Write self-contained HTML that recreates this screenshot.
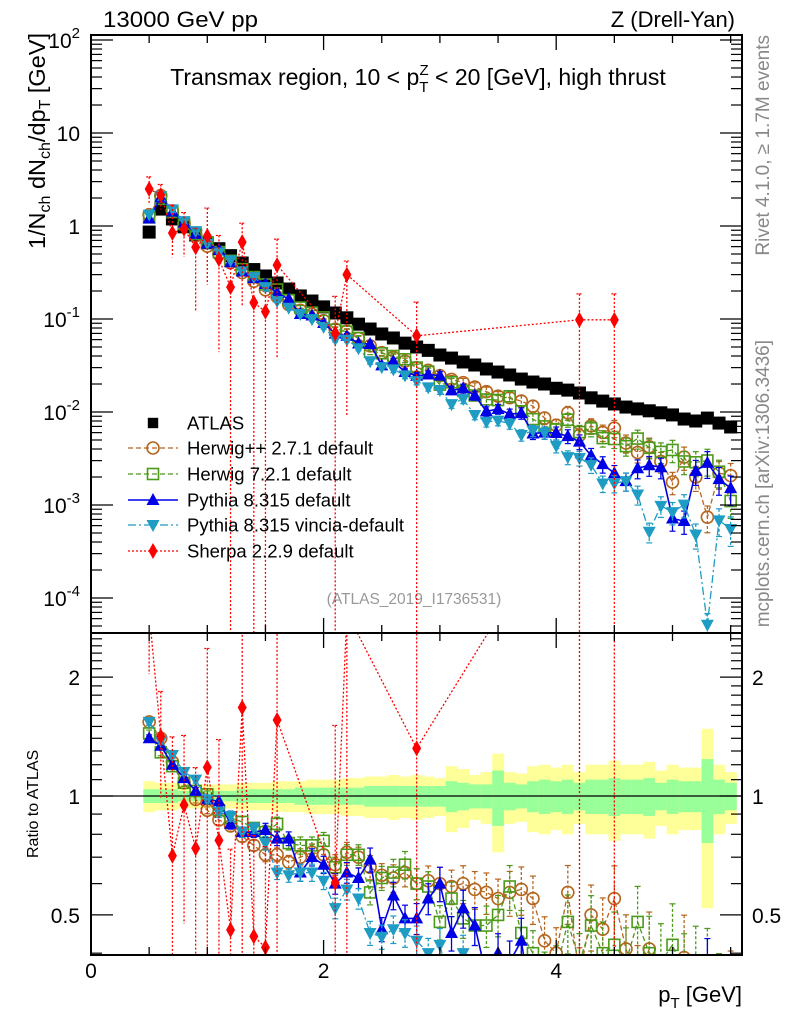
<!DOCTYPE html>
<html><head><meta charset="utf-8">
<style>
html,body{margin:0;padding:0;background:#fff;overflow:hidden;width:786px;height:1024px;}
svg{display:block;font-family:"Liberation Sans",Arial,sans-serif;}
</style></head>
<body>
<svg id="chart" width="786" height="1024" viewBox="0 0 786 1024" xmlns="http://www.w3.org/2000/svg">
<defs>
<clipPath id="clipMain"><rect x="91" y="35" width="651" height="598"/></clipPath>
<clipPath id="clipRatio"><rect x="91" y="633" width="651" height="322"/></clipPath>
</defs>
<rect x="0" y="0" width="786" height="1024" fill="#fff"/>
<text x="103" y="27" font-size="22" textLength="155" lengthAdjust="spacingAndGlyphs">13000 GeV pp</text>
<text x="735" y="27" font-size="22" text-anchor="end">Z (Drell-Yan)</text>
<text x="418" y="85" font-size="23" text-anchor="middle">Transmax region, 10 &lt; p<tspan font-size="15" dy="7">T</tspan><tspan font-size="15" dx="-9" dy="-17">Z</tspan><tspan dy="10"> &lt; 20 [GeV], high thrust</tspan></text>
<text transform="translate(45,33) rotate(-90)" font-size="23.5" text-anchor="end">1/N<tspan font-size="16" dy="5">ch</tspan><tspan dy="-5"> dN</tspan><tspan font-size="16" dy="5">ch</tspan><tspan dy="-5">/dp</tspan><tspan font-size="16" dy="5">T</tspan><tspan dy="-5"> [GeV]</tspan></text>
<text transform="translate(769,35) rotate(-90)" font-size="19" fill="#888" text-anchor="end">Rivet 4.1.0, ≥ 1.7M events</text>
<text transform="translate(769,340) rotate(-90)" font-size="19" fill="#888" text-anchor="end">mcplots.cern.ch [arXiv:1306.3436]</text>
<text x="414" y="604" font-size="15.5" fill="#999" text-anchor="middle">(ATLAS_2019_I1736531)</text>
<text transform="translate(38,858) rotate(-90)" font-size="16" text-anchor="start">Ratio to ATLAS</text>
<text x="742" y="1002" font-size="22" text-anchor="end">p<tspan font-size="15" dy="6">T</tspan><tspan dy="-6"> [GeV]</tspan></text>
<g id="bands" clip-path="url(#clipRatio)"></g>
<g id="marksMain" clip-path="url(#clipMain)"></g>
<g id="marksRatio" clip-path="url(#clipRatio)"></g>
<g id="axes"></g>
<g id="legend"></g>
</svg>
<script>
const xs = [0.5,0.6,0.7,0.8,0.9,1.0,1.1,1.2,1.3,1.4,1.5,1.6,1.7,1.8,1.9,2.0,2.1,2.2,2.3,2.4,2.5,2.6,2.7,2.8,2.9,3.0,3.1,3.2,3.3,3.4,3.5,3.6,3.7,3.8,3.9,4.0,4.1,4.2,4.3,4.4,4.5,4.6,4.7,4.8,4.9,5.0,5.1,5.2,5.3,5.4,5.5];
const atlas = [0.86,1.52,1.19,0.98,0.80,0.66,0.57,0.48,0.40,0.34,0.29,0.244,0.21,0.177,0.156,0.135,0.116,0.103,0.088,0.078,0.069,0.0625,0.055,0.050,0.046,0.041,0.038,0.0345,0.032,0.029,0.0269,0.025,0.0226,0.021,0.020,0.018,0.0172,0.016,0.0142,0.0131,0.0122,0.0113,0.0108,0.0103,0.0098,0.0093,0.0084,0.0080,0.0086,0.0076,0.0069];
const bandOuter = [0.09,0.08,0.08,0.07,0.07,0.07,0.07,0.07,0.08,0.08,0.08,0.09,0.09,0.09,0.10,0.10,0.10,0.11,0.11,0.12,0.12,0.13,0.12,0.13,0.12,0.11,0.19,0.17,0.13,0.15,0.28,0.15,0.14,0.19,0.20,0.18,0.20,0.15,0.20,0.20,0.23,0.20,0.20,0.22,0.16,0.20,0.18,0.18,0.48,0.20,0.15];
const bandInner = [0.04,0.04,0.04,0.03,0.03,0.03,0.03,0.03,0.04,0.04,0.04,0.04,0.04,0.05,0.05,0.05,0.05,0.05,0.05,0.06,0.06,0.06,0.06,0.06,0.06,0.06,0.09,0.08,0.07,0.07,0.16,0.08,0.07,0.09,0.10,0.09,0.10,0.08,0.10,0.10,0.11,0.10,0.10,0.11,0.08,0.10,0.09,0.09,0.24,0.10,0.08];
const herwigppRatio = [1.54,1.40,1.22,1.08,0.98,0.92,0.87,0.84,0.79,0.75,0.71,0.71,0.68,0.70,0.72,0.71,0.67,0.72,0.70,0.66,0.63,0.62,0.64,0.60,0.61,0.60,0.59,0.60,0.58,0.57,0.55,0.57,0.58,0.55,0.43,0.40,0.57,0.35,0.50,0.46,0.55,0.41,0.34,0.41,0.30,0.19,0.39,0.25,0.086,0.29,0.30];
const herwig7Ratio = [1.44,1.29,1.19,1.08,1.03,1.01,0.92,0.88,0.86,0.83,0.81,0.85,0.76,0.75,0.75,0.77,0.66,0.71,0.71,0.57,0.62,0.64,0.67,0.60,0.59,0.48,0.55,0.49,0.47,0.47,0.50,0.59,0.45,0.40,0.35,0.36,0.48,0.38,0.47,0.40,0.42,0.38,0.48,0.40,0.38,0.42,0.35,0.36,0.35,0.30,0.16];
const pythiaRatio = [1.40,1.34,1.20,1.11,1.03,0.98,0.97,0.85,0.81,0.81,0.82,0.78,0.78,0.64,0.70,0.67,0.60,0.64,0.62,0.69,0.46,0.56,0.49,0.49,0.55,0.60,0.45,0.52,0.47,0.35,0.40,0.38,0.43,0.28,0.30,0.33,0.32,0.30,0.24,0.21,0.18,0.16,0.23,0.26,0.26,0.077,0.08,0.29,0.33,0.25,0.22];
const vinciaRatio = [1.54,1.38,1.27,1.15,1.10,0.98,0.91,0.89,0.81,0.83,0.76,0.64,0.63,0.64,0.64,0.61,0.52,0.58,0.55,0.45,0.44,0.46,0.45,0.43,0.40,0.42,0.32,0.40,0.29,0.27,0.30,0.30,0.25,0.30,0.30,0.24,0.19,0.20,0.19,0.13,0.14,0.16,0.12,0.05,0.10,0.09,0.12,0.06,0.006,0.09,0.08];
const mcErr = [0.02,0.02,0.02,0.02,0.02,0.02,0.03,0.03,0.03,0.03,0.04,0.04,0.04,0.05,0.05,0.05,0.06,0.06,0.06,0.07,0.07,0.08,0.08,0.09,0.09,0.10,0.10,0.11,0.11,0.12,0.12,0.13,0.14,0.14,0.15,0.16,0.17,0.18,0.19,0.20,0.21,0.22,0.23,0.24,0.25,0.27,0.28,0.30,0.32,0.33,0.35];
const sherpaVals = [2.5,2.15,0.84,0.93,0.59,0.78,0.44,0.22,0.67,0.15,0.12,0.38,null,null,null,null,0.07,0.30,null,null,null,null,null,0.066,null,null,null,null,null,null,null,null,null,null,null,null,null,0.098,null,null,0.098,null,null,null,null,null,null,null,null,null,null];
const sherpaErrUp = [0.35,0.3,1.0,0.5,0.6,1.0,0.8,0.6,0.6,0.8,0.8,0.9,0,0,0,0,1.5,0.4,0,0,0,0,0,1.3,0,0,0,0,0,0,0,0,0,0,0,0,0,0.9,0,0,0.9,0,0,0,0,0,0,0,0,0,0];
const sherpaErrDn = [0.3,0.3,0.45,0.5,0.8,0.7,0.9,1,0.8,1,1,0.9,0,0,0,0,1,0.97,0,0,0,0,0,1,0,0,0,0,0,0,0,0,0,0,0,0,0,1,0,0,1,0,0,0,0,0,0,0,0,0,0];
const yTickLabels = ["10^2","10","1","10^-1","10^-2","10^-3","10^-4"];
const ratioTickLabels = ["2","1","0.5"];
const xTickLabels = ["0","2","4"];

const NS="http://www.w3.org/2000/svg";
const X0=91, XPU=116.3;
function xS(v){return X0+v*XPU;}
function yM(v){return 226-93*Math.log10(v);}
function yR(r){return 796-395*Math.log10(r);}
function mk(tag,attrs,parent){const e=document.createElementNS(NS,tag);for(const k in attrs)e.setAttribute(k,attrs[k]);if(parent)parent.appendChild(e);return e;}
const gMain=document.getElementById('marksMain'), gRatio=document.getElementById('marksRatio'), gAx=document.getElementById('axes'), gBand=document.getElementById('bands'), gLeg=document.getElementById('legend');

function marker(type,x,y,color,parent,s){
  s=s||1;let e;
  if(type==='sq'){e=mk('rect',{x:x-6.5*s,y:y-6.5*s,width:13*s,height:13*s,fill:'#000'},parent);}
  else if(type==='circ'){e=mk('circle',{cx:x,cy:y,r:6*s,fill:'none',stroke:color,'stroke-width':1.6},parent);}
  else if(type==='osq'){e=mk('rect',{x:x-5.5*s,y:y-5.5*s,width:11*s,height:11*s,fill:'none',stroke:color,'stroke-width':1.6},parent);}
  else if(type==='tup'){e=mk('polygon',{points:`${x},${y-7*s} ${x-6.5*s},${y+5*s} ${x+6.5*s},${y+5*s}`,fill:color},parent);}
  else if(type==='tdn'){e=mk('polygon',{points:`${x},${y+7*s} ${x-6.5*s},${y-5*s} ${x+6.5*s},${y-5*s}`,fill:color},parent);}
  else if(type==='dia'){e=mk('polygon',{points:`${x},${y-8*s} ${x+4.5*s},${y} ${x},${y+8*s} ${x-4.5*s},${y}`,fill:color},parent);}
  return e;
}

xs.forEach((xv,i)=>{
  const x1=xS(xv-0.05), w=xS(xv+0.05)-x1;
  const yo=mk('rect',{x:x1,y:yR(1+bandOuter[i]),width:w+0.3,height:yR(1-bandOuter[i])-yR(1+bandOuter[i]),fill:'#ffff99'},gBand);
  
  
  const gi=mk('rect',{x:x1,y:yR(1+bandInner[i]),width:w+0.3,height:yR(1-bandInner[i])-yR(1+bandInner[i]),fill:'#99ff99'},gBand);
  
  
});
mk('line',{x1:91,x2:742,y1:yR(1),y2:yR(1),stroke:'#000','stroke-width':1.3},gRatio);

const series=[
  {name:'herwigpp',ratio:herwigppRatio,color:'#b5651d',type:'circ',dash:'5,3',w:1.3},
  {name:'herwig7',ratio:herwig7Ratio,color:'#4c9a1a',type:'osq',dash:'5,3',w:1.3},
  {name:'pythia',ratio:pythiaRatio,color:'#0000e6',type:'tup',dash:'',w:1.6},
  {name:'vincia',ratio:vinciaRatio,color:'#1e9cc4',type:'tdn',dash:'8,3,2,3',w:1.3}
];
function drawSeries(s,g,yf,valf){
  let d='';
  xs.forEach((xv,i)=>{const v=valf(i);const y=yf(v);d+=(i?'L':'M')+xS(xv).toFixed(1)+','+y.toFixed(1);});
  const p=mk('path',{d:d,fill:'none',stroke:s.color,'stroke-width':s.w,'stroke-dasharray':s.dash},g);
  
  
  xs.forEach((xv,i)=>{
    const v=valf(i), x=xS(xv);
    const yt=yf(v*(1+mcErr[i])), yb=yf(Math.max(v*(1-mcErr[i]),1e-9));
    mk('line',{x1:x,x2:x,y1:yt,y2:yb,stroke:s.color,'stroke-width':1.3,'stroke-dasharray':s.dash?'3,2':''},g);
    mk('line',{x1:x-3,x2:x+3,y1:yt,y2:yt,stroke:s.color,'stroke-width':1.2},g);
    mk('line',{x1:x-3,x2:x+3,y1:yb,y2:yb,stroke:s.color,'stroke-width':1.2},g);
    const m=marker(s.type,x,yf(v),s.color,g);
    
    
  });
}
xs.forEach((xv,i)=>{
  const m=marker('sq',xS(xv),yM(atlas[i]),'#000',gMain);
  
  
});
series.forEach(s=>{
  drawSeries(s,gMain,yM,i=>atlas[i]*s.ratio[i]);
  drawSeries(s,gRatio,yR,i=>s.ratio[i]);
});
function drawSherpa(g,yf,valf,bottom){
  let d='';let first=true;
  xs.forEach((xv,i)=>{if(sherpaVals[i]===null)return;const y=yf(valf(i));d+=(first?'M':'L')+xS(xv).toFixed(1)+','+y.toFixed(1);first=false;});
  const p=mk('path',{d:d,fill:'none',stroke:'#ff0000','stroke-width':1.3,'stroke-dasharray':'2,2'},g);
  
  
  xs.forEach((xv,i)=>{
    if(sherpaVals[i]===null)return;
    const v=valf(i), x=xS(xv);
    const yt=yf(v*(1+sherpaErrUp[i]));
    const yb=sherpaErrDn[i]>=1?bottom:yf(v*(1-sherpaErrDn[i]));
    mk('line',{x1:x,x2:x,y1:yt,y2:yb,stroke:'#ff0000','stroke-width':1.3,'stroke-dasharray':'2,2'},g);
    mk('line',{x1:x-3,x2:x+3,y1:yt,y2:yt,stroke:'#ff0000','stroke-width':1.2,'stroke-dasharray':'2,1'},g);
    const m=marker('dia',x,yf(v),'#ff0000',g);
    
    
  });
}
drawSherpa(gMain,yM,i=>sherpaVals[i],640);
drawSherpa(gRatio,yR,i=>sherpaVals[i]/atlas[i],960);

mk('rect',{x:91,y:35,width:651,height:598,fill:'none',stroke:'#000','stroke-width':2},gAx);
mk('rect',{x:91,y:633,width:651,height:322,fill:'none',stroke:'#000','stroke-width':2},gAx);
for(let k=0;k<=11;k++){
  const v=k*0.5, x=xS(v); if(x>742)break;
  const L=(k%4===0)?15:8;
  [[35,1],[633,-1],[633,1],[955,-1]].forEach(([y0,dir])=>mk('line',{x1:x,x2:x,y1:y0,y2:y0+dir*L,stroke:'#000','stroke-width':1.3},gAx));
}
xTickLabels.forEach((t,i)=>{
  const e=mk('text',{x:xS(i*2),y:978,'font-size':21,'text-anchor':'middle'},gAx);e.textContent=t;
  
  
});
for(let dec=-5;dec<=2;dec++){
  for(let m=1;m<=9;m++){
    const v=m*Math.pow(10,dec); const y=yM(v); if(y<35||y>633)continue;
    const L=m===1?22:11;
    mk('line',{x1:91,x2:91+L,y1:y,y2:y,stroke:'#000','stroke-width':1.2},gAx);
    mk('line',{x1:742,x2:742-L,y1:y,y2:y,stroke:'#000','stroke-width':1.2},gAx);
  }
}
yTickLabels.forEach((t,i)=>{
  const y=yM(Math.pow(10,2-i));
  const parts=t.split('^');
  const e=mk('text',{x:80,y:y+8,'font-size':21,'text-anchor':'end'},gAx);
  
  
  if(parts.length===1){e.textContent=t;}
  else{e.appendChild(document.createTextNode(parts[0]));const ts=mk('tspan',{'font-size':15,dy:-10},e);ts.textContent=parts[1];}
});
for(let k=4;k<=25;k++){
  const v=k/10, y=yR(v); if(y<633||y>955)continue;
  const L=(k===5||k===10||k===20)?22:11;
  mk('line',{x1:91,x2:91+L,y1:y,y2:y,stroke:'#000','stroke-width':1.2},gAx);
  mk('line',{x1:742,x2:742-L,y1:y,y2:y,stroke:'#000','stroke-width':1.2},gAx);
}
ratioTickLabels.forEach(t=>{
  const y=yR(parseFloat(t));
  const e=mk('text',{x:80,y:y+8,'font-size':21,'text-anchor':'end'},gAx);e.textContent=t;
  
  
  const e2=mk('text',{x:752,y:y+8,'font-size':21,'text-anchor':'start'},gAx);e2.textContent=t;
  
  
});
const legItems=[
  {label:'ATLAS',type:'sq',color:'#000',dash:null,w:0},
  {label:'Herwig++ 2.7.1 default',type:'circ',color:'#b5651d',dash:'5,3',w:1.3},
  {label:'Herwig 7.2.1 default',type:'osq',color:'#4c9a1a',dash:'5,3',w:1.3},
  {label:'Pythia 8.315 default',type:'tup',color:'#0000e6',dash:'',w:1.6},
  {label:'Pythia 8.315 vincia-default',type:'tdn',color:'#1e9cc4',dash:'8,3,2,3',w:1.3},
  {label:'Sherpa 2.2.9 default',type:'dia',color:'#ff0000',dash:'2,2',w:1.3}
];
const legY=[423,448,474,500,525,551];
legItems.forEach((it,i)=>{
  const g=mk('g',{},gLeg);
  
  
  const y=legY[i];
  if(it.dash!==null) mk('line',{x1:128,x2:178,y1:y,y2:y,stroke:it.color,'stroke-width':it.w,'stroke-dasharray':it.dash},g);
  marker(it.type,153,y,it.color,g,it.type==='sq'?0.8:1);
  const t=mk('text',{x:187,y:y+6.5,'font-size':18.5},g);t.textContent=it.label;
});
</script>
</body></html>
